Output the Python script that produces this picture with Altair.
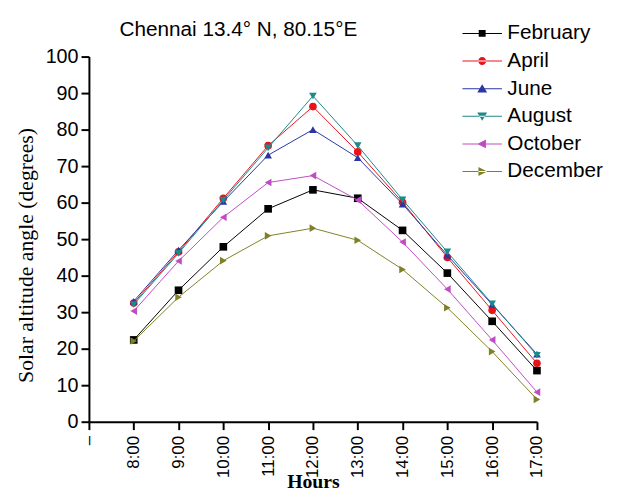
import altair as alt
import pandas as pd

hours = [8, 9, 10, 11, 12, 13, 14, 15, 16, 17]
months = ["February", "April", "June", "August", "October", "December"]

february = [22.4, 36.0, 47.9, 58.3, 63.5, 61.2, 52.4, 40.7, 27.5, 14.0]
april = [32.5, 46.5, 61.2, 75.6, 86.3, 73.9, 60.1, 45.0, 30.5, 16.0]
june = [33.0, 47.0, 60.3, 73.0, 80.0, 72.3, 59.6, 45.6, 32.1, 18.5]
august = [32.1, 46.1, 60.7, 75.0, 89.2, 75.6, 60.8, 46.5, 32.3, 18.2]
october = [30.3, 44.0, 56.0, 65.5, 67.4, 60.7, 49.2, 36.3, 22.4, 8.1]
december = [22.1, 34.1, 44.1, 50.9, 53.0, 49.7, 41.7, 31.2, 19.2, 6.1]

colors = ["#000000", "#e8141c", "#2a36a4", "#1a8a8a", "#c04cc4", "#808028"]
shapes = ["square", "circle", "triangle-up", "triangle-down", "triangle-left", "triangle-right"]

LINE = "M-2,-0.05H2V0.05H-2Z"
legend_shapes = [
    LINE + "M-0.35,-0.35H0.35V0.35H-0.35Z",
    LINE + "M-0.4,0A0.4,0.4,0,1,0,0.4,0A0.4,0.4,0,1,0,-0.4,0Z",
    LINE + "M0,-0.45L0.5,0.38H-0.5Z",
    LINE + "M0,0.45L0.5,-0.38H-0.5Z",
    LINE + "M-0.5,0L0.38,-0.45V0.45Z",
    LINE + "M0.5,0L-0.38,-0.45V0.45Z",
]

series = [february, april, june, august, october, december]
rows = []
for m, vals in zip(months, series):
    for h, v in zip(hours, vals):
        rows.append({"hour": h, "angle": v, "month": m})
df = pd.DataFrame(rows)

x_enc = alt.X(
    "hour:Q",
    scale=alt.Scale(domain=[7, 17], nice=False, zero=False),
    axis=alt.Axis(
        title="Hours",
        values=list(range(7, 18)),
        labelExpr="datum.value == 7 ? '–' : datum.value + ':00'",
        labelAngle=270,
        labelFont="Liberation Sans",
        labelFontSize=17,
        labelColor="#000000",
        labelPadding=6,
        tickSize=8,
        tickWidth=2,
        tickColor="#000000",
        domainWidth=2,
        domainColor="#000000",
        grid=False,
        titleFont="Liberation Serif",
        titleFontSize=20,
        titleFontWeight="bold",
        titleColor="#000000",
        titleBaseline="alphabetic",
        titleY=67,
    ),
)
y_enc = alt.Y(
    "angle:Q",
    scale=alt.Scale(domain=[0, 100], nice=False),
    axis=alt.Axis(
        title="Solar altitude angle (degrees)",
        values=list(range(0, 101, 10)),
        labelFont="Liberation Sans",
        labelFontSize=20,
        labelColor="#000000",
        labelPadding=3,
        tickSize=8,
        tickWidth=2,
        tickColor="#000000",
        domainWidth=2,
        domainColor="#000000",
        grid=False,
        titleFont="Liberation Serif",
        titleFontSize=22,
        titleFontWeight="normal",
        titleColor="#000000",
        titlePadding=8,
        titleY=201,
    ),
)

layers = []
for m, s, c in zip(months, shapes, colors):
    base = alt.Chart(df).transform_filter(alt.datum.month == m)
    layers.append(
        base.mark_line(strokeWidth=1, color=c).encode(x=x_enc, y=y_enc)
    )
    layers.append(
        base.mark_point(filled=True, size=60, opacity=1, shape=s, color=c).encode(x=x_enc, y=y_enc)
    )

legend_params = alt.Legend(
    title=None,
    orient="none",
    legendX=388,
    legendY=-34,
    symbolSize=400,
    symbolStrokeWidth=0,
    labelFont="Liberation Sans",
    labelFontSize=21,
    labelColor="#000000",
    labelOffset=15,
    rowPadding=6,
    padding=0,
)

legend_layer = alt.Chart(df).transform_filter("false").mark_point(filled=True, opacity=1).encode(
    x=x_enc,
    y=y_enc,
    color=alt.Color("month:N", scale=alt.Scale(domain=months, range=colors), legend=legend_params),
    shape=alt.Shape("month:N", scale=alt.Scale(domain=months, range=legend_shapes), legend=legend_params),
)

chart = (
    alt.layer(*layers, legend_layer)
    .properties(
        width=454,
        height=370,
        title=alt.TitleParams(
            "Chennai 13.4° N, 80.15°E",
            font="Liberation Sans",
            fontSize=21,
            fontWeight="normal",
            color="#000000",
            anchor="start",
            frame="group",
            dx=31,
            dy=31,
            offset=14,
        ),
        autosize=alt.AutoSizeParams(type="none"),
        padding={"left": 82, "top": 46, "right": 73, "bottom": 68},
    )
    .configure_view(stroke=None)
)

chart.save("out.html", embed_options={"renderer": "svg", "actions": False})
